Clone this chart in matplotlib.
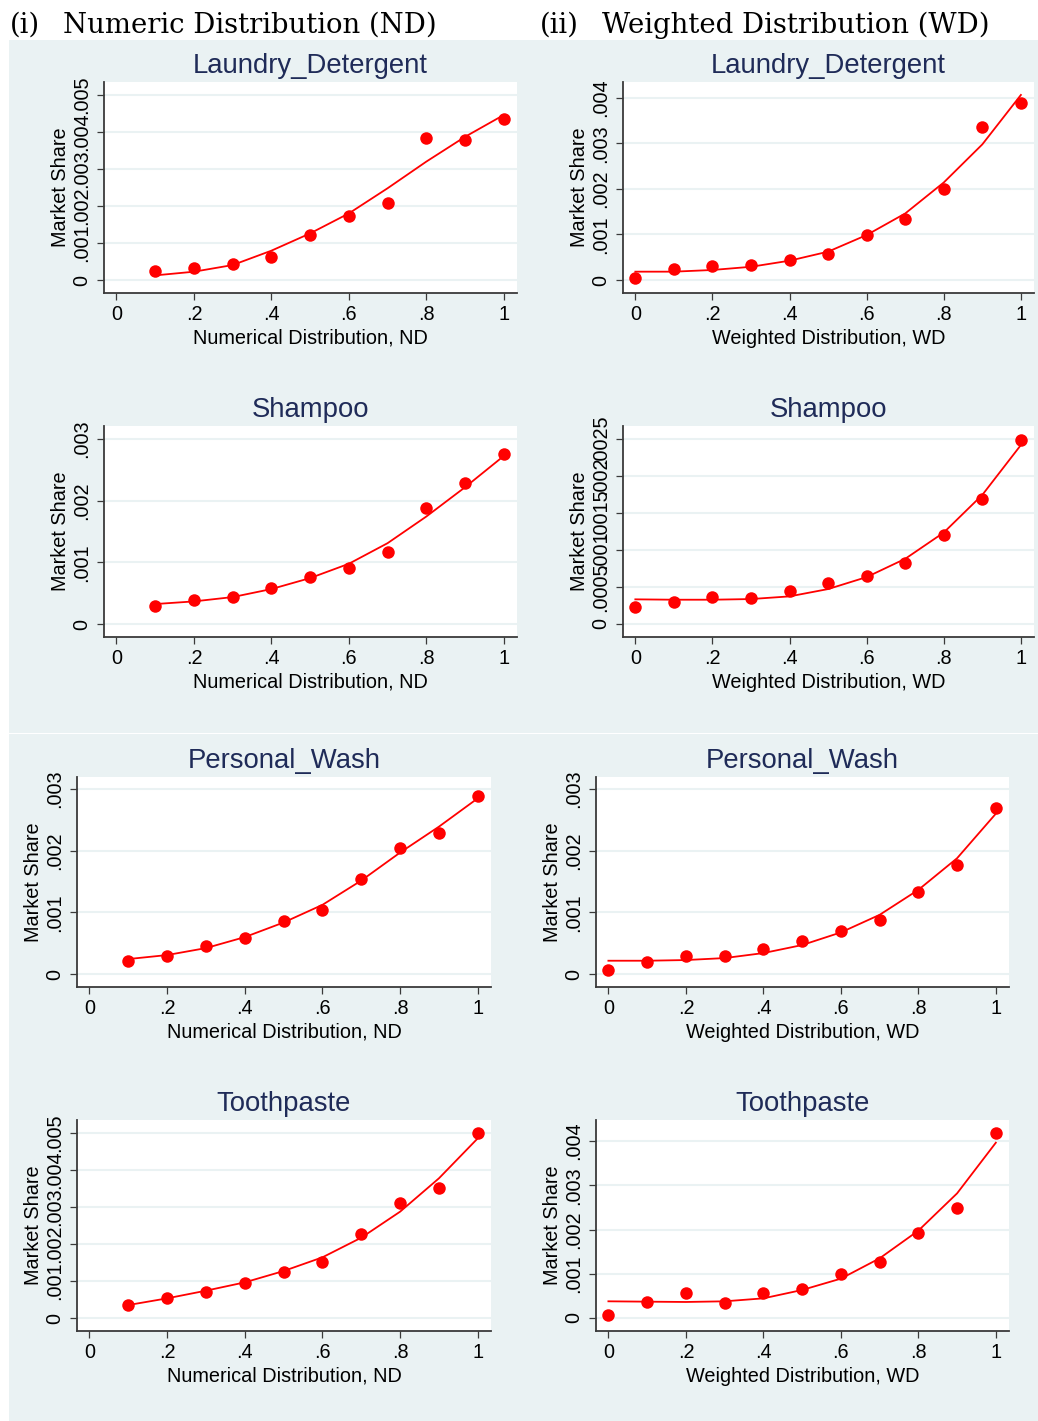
import matplotlib
matplotlib.use("Agg")
import matplotlib.pyplot as plt
from matplotlib.patches import Rectangle

W, H = 1038, 1421
BG = "#EAF2F3"
RED = "#FF0000"
NAVY = "#1F2B58"
AXC = "#3a3a3a"

plt.rcParams["font.family"] = ["Liberation Sans", "DejaVu Sans"]

# distribution levels
nd_x = [0.1, 0.2, 0.3, 0.4, 0.5, 0.6, 0.7, 0.8, 0.9, 1.0]
wd_x = [0.0, 0.1, 0.2, 0.3, 0.4, 0.5, 0.6, 0.7, 0.8, 0.9, 1.0]

laundry_nd = [0.000252, 0.000333, 0.000432, 0.000622, 0.001225, 0.001739, 0.00209, 0.003838, 0.003793, 0.00436]
laundry_nd_fit = [0.000126, 0.000225, 0.000405, 0.000793, 0.00126, 0.0018, 0.00248, 0.0032, 0.00387, 0.00446]
laundry_wd = [0.000051, 0.000249, 0.000314, 0.000329, 0.000439, 0.000563, 0.00098, 0.00133, 0.00199, 0.003364, 0.003876]
laundry_wd_fit = [0.000183, 0.000183, 0.00022, 0.00029, 0.000424, 0.000622, 0.000987, 0.00146, 0.00214, 0.002976, 0.00406]

shampoo_nd = [0.000286, 0.000394, 0.000443, 0.000583, 0.000761, 0.000907, 0.001171, 0.001883, 0.002294, 0.002763]
shampoo_nd_fit = [0.000324, 0.000367, 0.000437, 0.000567, 0.000745, 0.000977, 0.001311, 0.001743, 0.002218, 0.002725]
shampoo_wd = [0.000229, 0.000297, 0.000369, 0.000351, 0.00045, 0.000553, 0.000652, 0.000823, 0.0012, 0.001686, 0.002487]
shampoo_wd_fit = [0.000333, 0.000328, 0.000328, 0.000337, 0.000373, 0.000472, 0.000634, 0.000881, 0.001236, 0.001745, 0.002419]

wash_nd = [0.000205, 0.000291, 0.000459, 0.000577, 0.000853, 0.001042, 0.001549, 0.00204, 0.002283, 0.002882]
wash_nd_fit = [0.000243, 0.000308, 0.000421, 0.000599, 0.000836, 0.001122, 0.001516, 0.00197, 0.00239, 0.00285]
wash_wd = [0.000059, 0.000194, 0.000297, 0.000286, 0.00041, 0.00054, 0.000696, 0.000874, 0.001338, 0.001775, 0.002687]
wash_wd_fit = [0.000216, 0.000216, 0.000227, 0.000259, 0.00034, 0.00047, 0.000675, 0.00096, 0.001365, 0.001878, 0.0026]

tooth_nd = [0.000342, 0.00055, 0.000694, 0.000955, 0.001243, 0.001514, 0.00227, 0.003108, 0.003505, 0.005]
tooth_nd_fit = [0.000351, 0.000532, 0.000739, 0.000964, 0.00127, 0.00164, 0.002171, 0.002874, 0.003775, 0.004856]
tooth_wd = [0.000068, 0.000369, 0.000557, 0.000339, 0.000557, 0.000663, 0.001002, 0.001266, 0.001913, 0.002486, 0.004181]
tooth_wd_fit = [0.000377, 0.000369, 0.000362, 0.000377, 0.000444, 0.000633, 0.000889, 0.001348, 0.001974, 0.002817, 0.003962]

x_ticks = [0, 0.2, 0.4, 0.6, 0.8, 1.0]
x_ticklabels = ["0", ".2", ".4", ".6", ".8", "1"]
ticks_5 = [0, 0.001, 0.002, 0.003, 0.004, 0.005]
labels_5 = ["0", ".001", ".002", ".003", ".004", ".005"]
ticks_4 = [0, 0.001, 0.002, 0.003, 0.004]
labels_4 = ["0", ".001", ".002", ".003", ".004"]
ticks_3 = [0, 0.001, 0.002, 0.003]
labels_3 = ["0", ".001", ".002", ".003"]
ticks_25 = [0, 0.0005, 0.001, 0.0015, 0.002, 0.0025]
labels_25 = ["0", ".0005", ".001", ".0015", ".002", ".0025"]

fig = plt.figure(figsize=(W / 100, H / 100), dpi=100)
fig.patch.set_facecolor("white")

# grey graph region, split by a thin white line between the two halves
fig.patches.append(Rectangle((9 / W, 1 - 732.5 / H), (W - 9) / W, (732.5 - 40) / H,
                             transform=fig.transFigure, facecolor=BG, edgecolor="none", zorder=-5))
fig.patches.append(Rectangle((9 / W, 0), (W - 9) / W, (H - 734) / H,
                             transform=fig.transFigure, facecolor=BG, edgecolor="none", zorder=-5))

fig.text(10 / W, 1 - 33 / H, "(i)", family="DejaVu Serif", fontsize=19.8, va="baseline")
fig.text(63 / W, 1 - 33 / H, "Numeric Distribution (ND)", family="DejaVu Serif", fontsize=19.8, va="baseline")
fig.text(540 / W, 1 - 33 / H, "(ii)", family="DejaVu Serif", fontsize=19.8, va="baseline")
fig.text(602 / W, 1 - 33 / H, "Weighted Distribution (WD)", family="DejaVu Serif", fontsize=19.8, va="baseline")


def box(l, t, r, b):
    return [l / W, 1 - b / H, (r - l) / W, (b - t) / H]


panels = [
    ("Laundry_Detergent", "Numerical Distribution, ND", nd_x, laundry_nd, laundry_nd_fit,
     ticks_5, labels_5, (-0.00035, 0.00535), box(104, 82, 517, 293)),
    ("Laundry_Detergent", "Weighted Distribution, WD", wd_x, laundry_wd, laundry_wd_fit,
     ticks_4, labels_4, (-0.000285, 0.004344), box(623, 82, 1034, 293)),
    ("Shampoo", "Numerical Distribution, ND", nd_x, shampoo_nd, shampoo_nd_fit,
     ticks_3, labels_3, (-0.00021, 0.00321), box(104, 426, 517, 637)),
    ("Shampoo", "Weighted Distribution, WD", wd_x, shampoo_wd, shampoo_wd_fit,
     ticks_25, labels_25, (-0.000176, 0.002676), box(623, 426, 1034, 637)),
    ("Personal_Wash", "Numerical Distribution, ND", nd_x, wash_nd, wash_nd_fit,
     ticks_3, labels_3, (-0.00021, 0.003195), box(77, 777, 491, 987)),
    ("Personal_Wash", "Weighted Distribution, WD", wd_x, wash_wd, wash_wd_fit,
     ticks_3, labels_3, (-0.00021, 0.003195), box(596, 777, 1009, 987)),
    ("Toothpaste", "Numerical Distribution, ND", nd_x, tooth_nd, tooth_nd_fit,
     ticks_5, labels_5, (-0.00035, 0.00535), box(77, 1120, 491, 1331)),
    ("Toothpaste", "Weighted Distribution, WD", wd_x, tooth_wd, tooth_wd_fit,
     ticks_4, labels_4, (-0.000294, 0.004475), box(596, 1120, 1009, 1331)),
]

for title, xlabel, xs, ys, fit, yt, ytl, ylim, rect in panels:
    ax = fig.add_axes(rect, zorder=2)
    ax.set_facecolor("white")
    ax.plot(xs, ys, "o", color=RED, ms=9, mec="none", zorder=3)
    ax.plot(xs, fit, "-", color=RED, lw=1.3, zorder=4)
    ax.set_xlim(-0.032, 1.034)
    ax.set_ylim(*ylim)
    ax.set_xticks(x_ticks)
    ax.set_xticklabels(x_ticklabels, fontsize=14.3)
    ax.set_yticks(yt)
    ax.set_yticklabels(ytl, fontsize=14.3, rotation=90, va="center")
    ax.grid(axis="y", color=BG, lw=1.5, zorder=0)
    ax.set_axisbelow(True)
    for s in ["top", "right"]:
        ax.spines[s].set_visible(False)
    for s in ["left", "bottom"]:
        ax.spines[s].set_color(AXC)
        ax.spines[s].set_linewidth(1.3)
    ax.tick_params(direction="out", length=5, width=0.9, color=AXC, pad=4)
    ax.set_xlabel(xlabel, fontsize=14.3, labelpad=3)
    ax.set_ylabel("Market Share", fontsize=14.3, labelpad=2)
    ax.set_title(title, fontsize=19.8, color=NAVY, pad=6.5)

plt.savefig("out.png", dpi=100)
